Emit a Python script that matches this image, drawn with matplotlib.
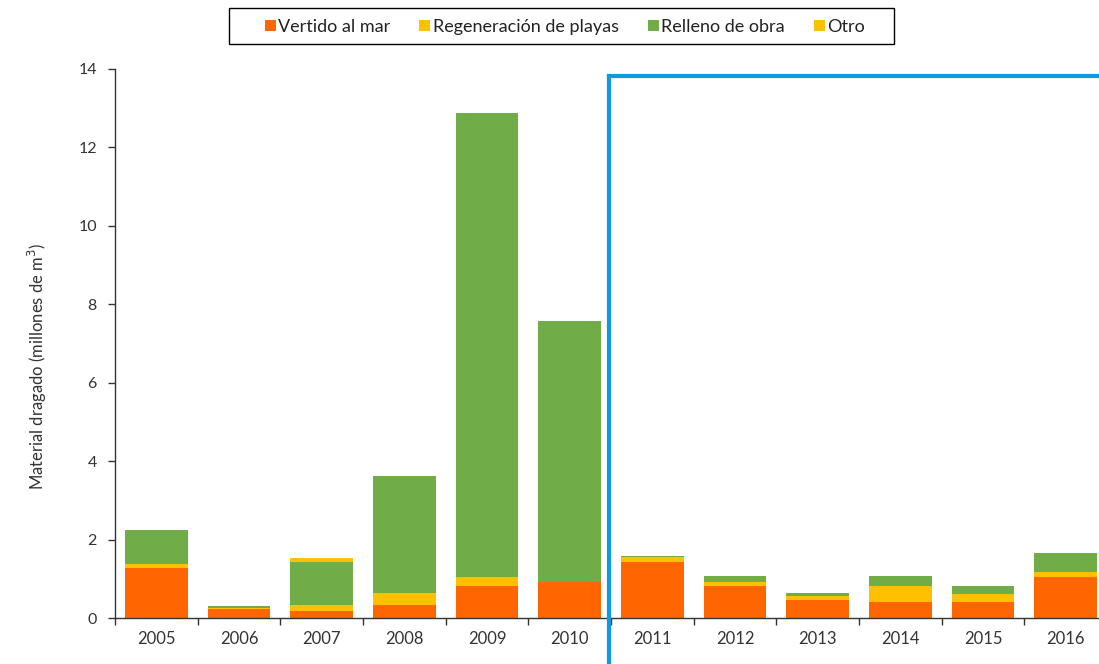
import matplotlib
matplotlib.use("Agg")
import matplotlib.pyplot as plt
from matplotlib.patches import Patch, Rectangle
from matplotlib.lines import Line2D
import numpy as np

plt.rcParams['font.family'] = ['Lato', 'DejaVu Sans']

years = ['2005', '2006', '2007', '2008', '2009', '2010',
         '2011', '2012', '2013', '2014', '2015', '2016']
vertido = [1.28, 0.22, 0.19, 0.33, 0.82, 0.93, 1.42, 0.82, 0.47, 0.40, 0.40, 1.04]
regeneracion = [0.09, 0.04, 0.14, 0.32, 0.22, 0.00, 0.13, 0.09, 0.08, 0.42, 0.21, 0.14]
relleno = [0.87, 0.05, 1.09, 2.97, 11.84, 6.65, 0.03, 0.15, 0.10, 0.24, 0.21, 0.49]
otro = [0.00, 0.00, 0.10, 0.00, 0.00, 0.00, 0.00, 0.00, 0.00, 0.00, 0.00, 0.00]

series = [
    ('Vertido al mar', vertido, '#FF6600'),
    ('Regeneración de playas', regeneracion, '#FFC000'),
    ('Relleno de obra', relleno, '#70AD47'),
    ('Otro', otro, '#FFC000'),
]

fig = plt.figure(figsize=(10.99, 6.64), dpi=100)
ax = fig.add_axes([115/1099, 46/664, 992/1099, 549/664])

x = np.arange(len(years))
bottom = np.zeros(len(years))
handles = []
for label, vals, color in series:
    v = np.array(vals)
    ax.bar(x, v, bottom=bottom, width=0.76, color=color, edgecolor='none')
    bottom += v
    handles.append(Patch(facecolor=color, edgecolor='none', label=label))

ax.set_xlim(-0.5, 11.5)
ax.set_ylim(0, 14)
ax.set_yticks(np.arange(0, 15, 2))
ax.set_xticks(x)
ax.set_xticklabels(years)
ax.set_xticks(np.arange(-0.5, 12, 1), minor=True)
ax.tick_params(axis='x', which='major', length=0, pad=9, labelsize=12, colors='#333333')
ax.tick_params(axis='x', which='minor', length=5, width=1, direction='out', color='#333333')
ax.tick_params(axis='y', length=5, width=1, direction='out', labelsize=11.5, pad=8, colors='#333333')
for s in ['top', 'right']:
    ax.spines[s].set_visible(False)
for s in ['left', 'bottom']:
    ax.spines[s].set_color('#333333')
    ax.spines[s].set_linewidth(1)

ax.set_ylabel('Material dragado (millones de m$^3$)', fontsize=12, color='#333333')
ax.yaxis.set_label_coords(-0.0665, 0.458)

# blue highlight frame
bx = 5.47
ax.add_line(Line2D([bx, bx], [13.83, -2.0], color='#0A9BE0', lw=3, clip_on=False, zorder=5))
ax.add_line(Line2D([bx, 12.5], [13.83, 13.83], color='#0A9BE0', lw=3, clip_on=False, zorder=5))

leg = fig.legend(handles=handles, loc='center', bbox_to_anchor=(565/1099, 1 - 27/664),
                 ncol=4, frameon=False, fontsize=13,
                 handlelength=0.6, handleheight=0.6, handletextpad=0.15, columnspacing=1.6,
                 borderpad=0.2)
for t in leg.get_texts():
    t.set_color('#222222')

fig.patches.append(Rectangle((229/1099, 1 - 44/664), (894-229)/1099, 36/664,
                             transform=fig.transFigure, fill=False, edgecolor='black',
                             linewidth=1.0, zorder=0))

fig.savefig('out.png', dpi=100)
